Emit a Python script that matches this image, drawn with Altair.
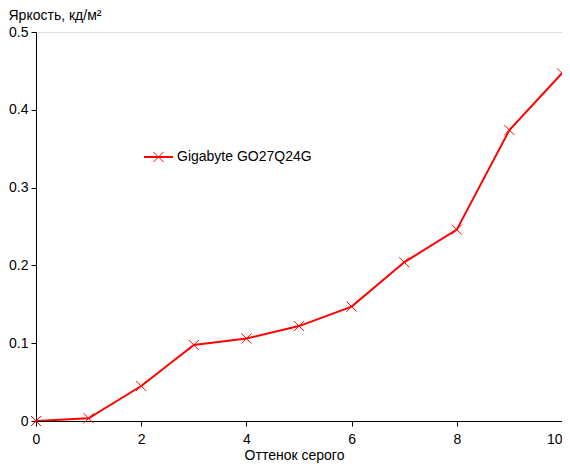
import altair as alt
import pandas as pd

# Data
shade = [0, 1, 2, 3, 4, 5, 6, 7, 8, 9, 10]
brightness = [0.0, 0.0035, 0.045, 0.0977, 0.106, 0.122, 0.147, 0.204, 0.246, 0.374, 0.447]
series_name = ["Gigabyte GO27Q24G"]
x_ticks = [0, 2, 4, 6, 8, 10]
y_ticks = [0, 0.1, 0.2, 0.3, 0.4, 0.5]

df = pd.DataFrame({"shade": shade, "brightness": brightness})
legend_df = pd.DataFrame({"name": series_name})

FONT = "Liberation Sans"
RED = "#ff0000"
PAD_L, PAD_T, PAD_B = 28, 24, 42
W, H = 526, 389

x_enc = alt.X(
    "shade:Q",
    scale=alt.Scale(domain=[0, 10], nice=False),
    axis=alt.Axis(
        values=x_ticks, title="Оттенок серого", grid=False,
        domainColor="black", tickColor="black", tickSize=5,
        labelColor="black", labelFont=FONT, labelFontSize=14, labelPadding=6,
        labelFlush=False,
        labelAlign={"condition": {"test": "datum.value === 10", "value": "right"}, "value": "center"},
        titleFont=FONT, titleFontSize=14, titleFontWeight="normal", titleColor="black",
        titleX=258, titleY=38, titleBaseline="alphabetic", titleAlign="center",
    ),
)
y_enc = alt.Y(
    "brightness:Q",
    scale=alt.Scale(domain=[0, 0.5], nice=False),
    axis=alt.Axis(
        values=y_ticks, format="~g", title="Яркость, кд/м²", grid=False,
        domainColor="black", tickColor="black", tickSize=5,
        labelColor="black", labelFont=FONT, labelFontSize=14, labelPadding=3,
        labelFlush=False,
        titleFont=FONT, titleFontSize=14, titleFontWeight="normal", titleColor="black",
        titleAngle=0, titleX=-28, titleY=-13, titleAlign="left", titleBaseline="alphabetic",
    ),
)

line = alt.Chart(df).mark_line(color=RED, strokeWidth=2, clip=True).encode(x=x_enc, y=y_enc)
pts = alt.Chart(df).mark_point(
    shape="M-1,-1L1,1M-1,1L1,-1", size=100, filled=False, color=RED, strokeWidth=1, opacity=1
).encode(x="shade:Q", y="brightness:Q")

leg_line = alt.Chart(legend_df).mark_rule(color=RED, strokeWidth=2).encode(
    x=alt.value(108), x2=alt.value(137), y=alt.value(125)
)
leg_pt = alt.Chart(legend_df).mark_point(
    shape="M-1,-1L1,1M-1,1L1,-1", size=100, filled=False, color=RED, strokeWidth=1, opacity=1
).encode(x=alt.value(122.5), y=alt.value(125))
leg_text = alt.Chart(legend_df).mark_text(
    align="left", baseline="middle", font=FONT, fontSize=14, color="black"
).encode(x=alt.value(141), y=alt.value(125), text="name:N")

chart = alt.layer(line, pts, leg_line, leg_pt, leg_text).properties(
    width=W, height=H,
    autosize=alt.AutoSizeParams(type="none"),
    padding={"left": PAD_L, "top": PAD_T, "right": 0, "bottom": PAD_B},
).configure_view(stroke=None).configure(background="white")

chart.save("out.html", embed_options={"renderer": "svg", "actions": False})
